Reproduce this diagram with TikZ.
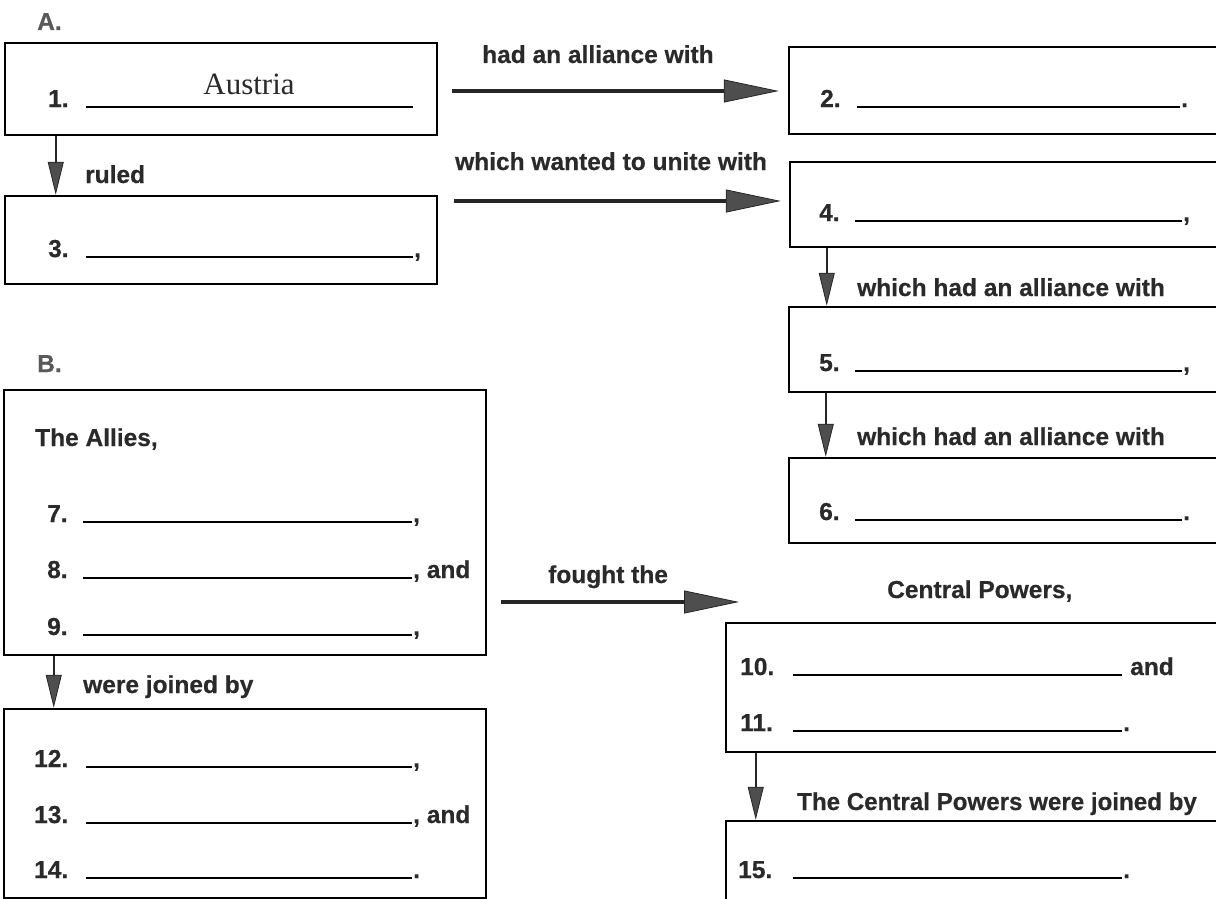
\documentclass[tikz,border=0pt]{standalone}
\usepackage{fontspec}
\setmainfont{Liberation Sans}
\newfontfamily\heavy[UprightFont=* Bold, FakeBold=0.5]{Liberation Sans}
\newfontfamily\serifhand{Liberation Serif}
\usetikzlibrary{arrows.meta,calc}
\definecolor{ink}{HTML}{2A2A2A}
\definecolor{tipgray}{HTML}{4E4E4E}
\tikzset{
  boxnode/.style={draw=black, line width=2.5pt, rectangle, inner sep=0pt},
  lbl/.style={inner sep=0pt, text=ink, font=\fontsize{24.5}{27}\selectfont\heavy},
  headlbl/.style={inner sep=0pt, text=black!65, font=\fontsize{24.5}{27}\selectfont\heavy},
  blankline/.style={draw=black, line width=1.4pt},
  harrow/.style={draw=black!85, line width=3.5pt,
    -{Triangle[length=55pt,width=23pt,fill=tipgray,line width=0.8pt]}},
  varrow/.style={draw=black!85, line width=2pt,
    -{Triangle[length=33pt,width=16pt,fill=tipgray,line width=0.8pt]}}
}
\newcommand{\entryrow}[8]{%
  \node[lbl,anchor=base west] (#1) at (#2,#3) {#4};
  \draw[blankline] (#5,#3) -- (#6,#3);
  \node[lbl,anchor=base west] (#1p) at (#6+1,#3) {#7#8};
}
\begin{document}
\begin{tikzpicture}[x=1pt,y=-1pt]
\useasboundingbox (0,0) rectangle (1216,899);
\fill[white] (0,0) rectangle (1216,899);
\clip (0,0) rectangle (1216,899);

% headings
\node[headlbl,anchor=base west] (hA) at (37,30) {A.};
\node[headlbl,anchor=base west] (hB) at (37,372) {B.};

% boxes
\node[boxnode, minimum width=432pt, minimum height=92pt] (b1) at (221,89) {};
\node[boxnode, minimum width=432pt, minimum height=88pt] (b3) at (221,240) {};
\node[boxnode, minimum width=436pt, minimum height=87pt] (b2) at (1007,90.5) {};
\node[boxnode, minimum width=435pt, minimum height=85pt] (b4) at (1007.5,204.5) {};
\node[boxnode, minimum width=436pt, minimum height=85pt] (b5) at (1007,349.5) {};
\node[boxnode, minimum width=436pt, minimum height=85pt] (b6) at (1007,500.5) {};
\node[boxnode, minimum width=482pt, minimum height=265pt] (bB) at (245,522.5) {};
\node[boxnode, minimum width=482pt, minimum height=189pt] (b12) at (245,803.5) {};
\node[boxnode, minimum width=499pt, minimum height=129pt] (b10) at (975.5,687.5) {};
\node[boxnode, minimum width=499pt, minimum height=84pt] (b15) at (975.5,863) {};

% part A entries
\entryrow{n1}{48}{107}{1.}{86}{413}{}{}
\node[inner sep=0pt, text=ink, font=\fontsize{31}{33}\selectfont\serifhand, anchor=base] (austria) at (249,95) {Austria};
\entryrow{n3}{48}{257}{3.}{86}{413}{,}{}
\entryrow{n2}{820}{107}{2.}{857}{1180}{.}{}
\entryrow{n4}{819}{221}{4.}{855}{1182}{,}{}
\entryrow{n5}{819}{371}{5.}{855}{1182}{,}{}
\entryrow{n6}{819}{520}{6.}{855}{1182}{.}{}

% part B entries
\node[lbl,anchor=base west] (allies) at (35,446) {The Allies,};
\entryrow{n7}{47}{522}{7.}{83}{412}{,}{}
\entryrow{n8}{47}{578}{8.}{83}{412}{,}{ and}
\entryrow{n9}{47}{635}{9.}{83}{412}{,}{}
\entryrow{n12}{34}{767}{12.}{86}{412}{,}{}
\entryrow{n13}{34}{823}{13.}{86}{412}{,}{ and}
\entryrow{n14}{34}{878}{14.}{86}{412}{.}{}
\node[lbl,anchor=base west] (central) at (887,598) {Central Powers,};
\entryrow{n10}{740}{675}{10.}{793}{1122}{}{\hspace{7pt}and}
\entryrow{n11}{740}{731}{11.}{793}{1122}{.}{}
\entryrow{n15}{738}{878}{15.}{793}{1122}{.}{}

% connector labels
\node[lbl,anchor=base west] (lruled) at (85,183) {ruled};
\node[lbl,anchor=base west] (lhad) at (482,63) {had an alliance with};
\node[lbl,anchor=base west] (lunite) at (455,170) {which wanted to unite with};
\node[lbl,anchor=base west] (lall1) at (857,296) {which had an alliance with};
\node[lbl,anchor=base west] (lall2) at (857,445) {which had an alliance with};
\node[lbl,anchor=base west] (ljoin) at (83,693) {were joined by};
\node[lbl,anchor=base west] (lfought) at (548,583) {fought the};
\node[lbl,anchor=base west] (lcpj) at (797,810) {\scalebox{0.985}[1]{The Central Powers were joined by}};

% connectors
\coordinate (v13) at ($(b1.south west)+(52,0)$);
\draw[varrow] (v13) -- (v13 |- b3.north);
\coordinate (v45) at ($(b4.south west)+(38,0)$);
\draw[varrow] (v45) -- (v45 |- b5.north);
\coordinate (v56) at ($(b5.south west)+(38,0)$);
\draw[varrow] (v56) -- (v56 |- b6.north);
\coordinate (vB) at ($(bB.south west)+(51,0)$);
\draw[varrow] (vB) -- (vB |- b12.north);
\coordinate (v1015) at ($(b10.south west)+(31,0)$);
\draw[varrow] (v1015) -- (v1015 |- b15.north);

\coordinate (h1) at ($(b2.west)+(0,0.5)$);
\draw[harrow, shorten <=14pt, shorten >=9pt] (b1.east |- h1) -- (h1);
\coordinate (h2) at ($(b4.west)+(0,-3.5)$);
\draw[harrow, shorten <=16pt, shorten >=8pt] (b3.east |- h2) -- (h2);
\coordinate (fte) at (739,602);
\draw[harrow, shorten <=14pt] (bB.east |- fte) -- (fte);
\end{tikzpicture}
\end{document}
